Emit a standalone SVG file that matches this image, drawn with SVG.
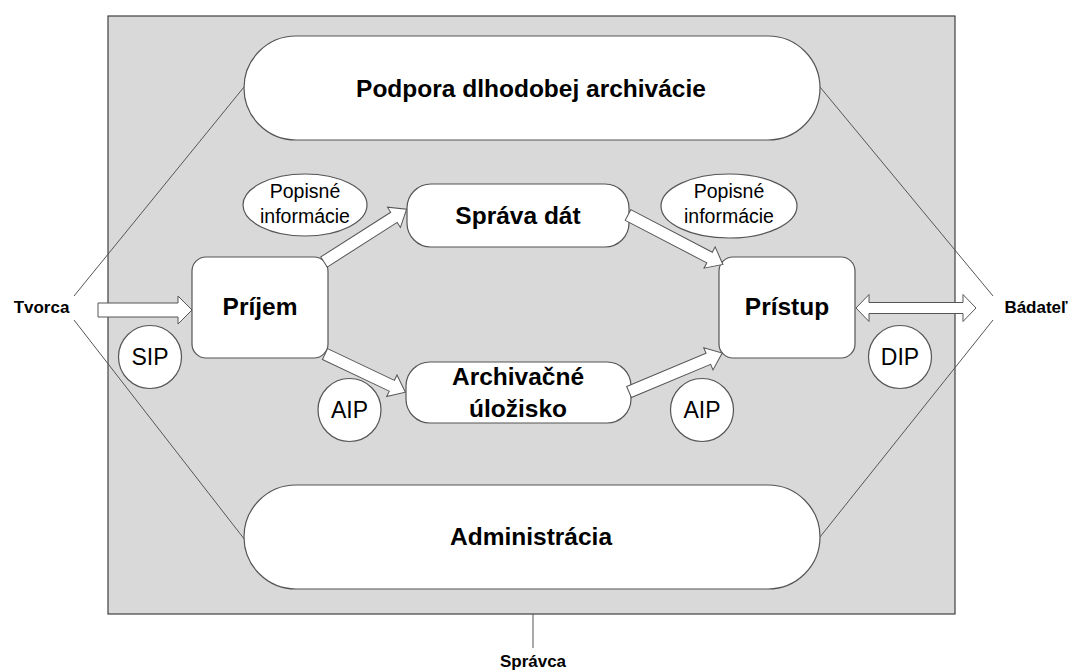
<svg xmlns="http://www.w3.org/2000/svg" width="1073" height="671" viewBox="0 0 1073 671">
<style>
.bg{fill:#d9d9d9;stroke:#404040;stroke-width:1.2}
.shape{fill:#fff;stroke:#555;stroke-width:1.2}
.line{stroke:#555;stroke-width:1;fill:none}
.arrow{fill:#fff;stroke:#555;stroke-width:1}
.b{font-family:"Liberation Sans",Arial,sans-serif;font-weight:bold;fill:#000;text-anchor:middle}
.r{font-family:"Liberation Sans",Arial,sans-serif;fill:#000;text-anchor:middle}
.big{font-size:24.5px}
.lbl{font-size:17px}
.pop{font-size:19.5px}
.pkg{font-size:23px}
</style>
<rect id="archive" class="bg" x="108" y="16" width="847" height="598"/>
<g id="connectors">
<line class="line" x1="74" y1="296" x2="244" y2="87"/>
<line class="line" x1="74" y1="320" x2="245" y2="540"/>
<line class="line" x1="993" y1="296" x2="820" y2="87"/>
<line class="line" x1="993" y1="320" x2="820" y2="537"/>
<line class="line" x1="533" y1="614" x2="533" y2="648"/>
</g>
<g id="podpora">
<rect class="shape" x="244" y="36" width="576" height="104" rx="52"/>
<text class="b big" x="531" y="97">Podpora dlhodobej archivácie</text>
</g>
<g id="administracia">
<rect class="shape" x="244" y="485" width="576" height="104" rx="52"/>
<text class="b big" x="531" y="545">Administrácia</text>
</g>
<g id="prijem">
<rect class="shape" x="192" y="257" width="136" height="101" rx="14"/>
<text class="b big" x="260" y="315">Príjem</text>
</g>
<g id="pristup">
<rect class="shape" x="719" y="257" width="136" height="101" rx="14"/>
<text class="b big" x="787" y="315">Prístup</text>
</g>
<g id="sprava">
<rect class="shape" x="407" y="184" width="222" height="63" rx="24"/>
<text class="b big" x="518" y="224">Správa dát</text>
</g>
<g id="ulozisko">
<rect class="shape" x="406" y="362" width="225" height="61" rx="24"/>
<text class="b big" x="518" y="385">Archivačné</text>
<text class="b big" x="518" y="417">úložisko</text>
</g>
<g id="connectors-arrows">
<path class="arrow" transform="translate(98,310)" d="M0,-7 L80,-7 L80,-14 L94,0 L80,14 L80,7 L0,7 Z"/>
<path class="arrow" transform="translate(856,308)" d="M13,-5.5 L107,-5.5 L107,-13.5 L120,0 L107,13.5 L107,5.5 L13,5.5 L13,13.5 L0,0 L13,-13.5 Z"/>
<path class="arrow" transform="translate(324,262) rotate(-32.56)" d="M0,-6 L83,-6 L83,-12 L98,0 L83,12 L83,6 L0,6 Z"/>
<path class="arrow" transform="translate(325,354) rotate(25.41)" d="M0,-6 L74,-6 L74,-12 L89,0 L74,12 L74,6 L0,6 Z"/>
<path class="arrow" transform="translate(628,215) rotate(27.53)" d="M0,-6 L92,-6 L92,-12 L107,0 L92,12 L92,6 L0,6 Z"/>
<path class="arrow" transform="translate(629,392) rotate(-22.67)" d="M0,-6 L86,-6 L86,-12 L101,0 L86,12 L86,6 L0,6 Z"/>
</g>
<g id="popis1">
<ellipse class="shape" cx="305" cy="205" rx="62" ry="31"/>
<text class="r pop" x="305" y="198">Popisné</text>
<text class="r pop" x="305" y="223">informácie</text>
</g>
<g id="popis2">
<ellipse class="shape" cx="729" cy="206" rx="68" ry="32"/>
<text class="r pop" x="729" y="198">Popisné</text>
<text class="r pop" x="729" y="223">informácie</text>
</g>
<g id="sip">
<circle class="shape" cx="150" cy="357" r="31.5"/>
<text class="r pkg" x="150" y="365">SIP</text>
</g>
<g id="aip1">
<circle class="shape" cx="349.5" cy="410" r="31.5"/>
<text class="r pkg" x="349.5" y="418">AIP</text>
</g>
<g id="aip2">
<circle class="shape" cx="702" cy="410" r="31.5"/>
<text class="r pkg" x="702" y="418">AIP</text>
</g>
<g id="dip">
<circle class="shape" cx="900" cy="357" r="31.5"/>
<text class="r pkg" x="900" y="365">DIP</text>
</g>
<g id="tvorca"><text class="b lbl" x="41.5" y="313">Tvorca</text></g>
<g id="badatel"><text class="b lbl" x="1036" y="313">Bádateľ</text></g>
<g id="spravca"><text class="b lbl" x="533" y="667">Správca</text></g>
</svg>
